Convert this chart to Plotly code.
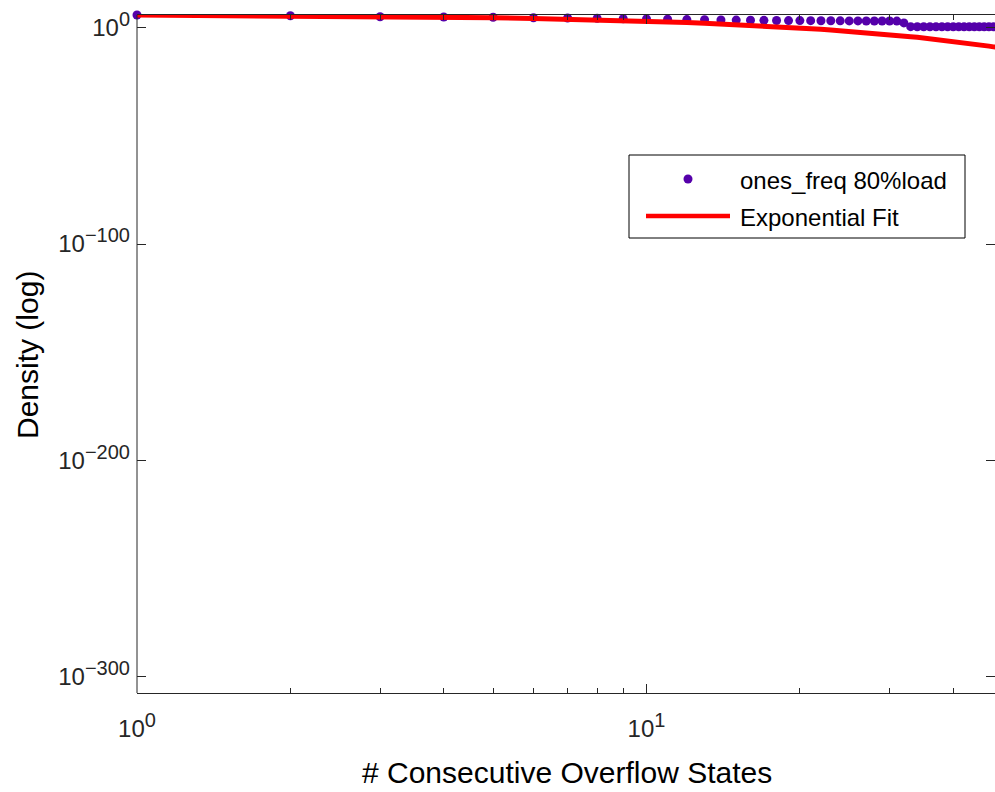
import plotly.graph_objects as go

# ---- data ----
x_states = list(range(1, 49))
ones_freq = [7.4e5, 3.5e5, 1.2e5, 8.7e4, 6.5e4, 4.2e4, 3.0e4, 2.2e4, 1.4e4, 1.0e4,
             7.6e3, 5.6e3, 4.5e3, 3.6e3, 3.2e3, 2.8e3, 2.5e3, 2.2e3, 2.0e3, 1.9e3,
             1.8e3, 1.7e3, 1.6e3, 1.5e3, 1.4e3, 1.35e3, 1.3e3, 1.26e3, 1.25e3, 1.2e3,
             1.1e3, 1.6e2, 3.0, 2.9, 2.9, 2.8, 2.9, 2.8, 2.8, 2.7,
             2.8, 2.7, 2.7, 2.6, 2.7, 2.6, 2.6, 2.6]

x_fit = list(range(1, 50))
fit_vals = [7.4e5, 3.6e5, 1.75e5, 8.5e4, 4.15e4, 2.0e4, 9.8e3, 4.8e3, 2.3e3, 1.13e3,
            5.5e2, 2.7e2, 1.3e2, 63, 31, 15, 7.3, 3.5, 1.7, 0.84,
            0.41, 0.20, 0.096, 0.047, 0.023, 0.011, 5.4e-3, 2.6e-3, 1.3e-3, 6.2e-4,
            3.0e-4, 1.5e-4, 7.1e-5, 3.5e-5, 1.7e-5, 8.2e-6, 4.0e-6, 1.9e-6, 9.5e-7, 4.6e-7,
            2.2e-7, 1.1e-7, 5.3e-8, 2.6e-8, 1.25e-8, 6.1e-9, 3.0e-9, 1.4e-9, 7.0e-10]

x_tickvals = [1, 10]
x_exponents = ["0", "1"]
x_minor = [2, 3, 4, 5, 6, 7, 8, 9, 20, 30, 40]
y_tickvals = [1, 1e-100, 1e-200, 1e-300]
y_exponents = ["0", "\u2212100", "\u2212200", "\u2212300"]

series_name = "ones_freq 80%load"
fit_name = "Exponential Fit"

PURPLE = "#5500aa"
RED = "#ff0000"
AX = "#262626"
FONT = "Liberation Sans, Arial, sans-serif"

def pow_label(e):
    return "10<sup><span style='font-size:20px'>%s</span></sup>" % e

x_ticktext = [pow_label(e) for e in x_exponents]
y_ticktext = [pow_label(e) for e in y_exponents]

fig = go.Figure()
fig.add_trace(go.Scatter(x=x_states, y=ones_freq, mode="markers", name=series_name,
                         marker=dict(color=PURPLE, size=9, line=dict(width=0)),
                         cliponaxis=False, showlegend=False, hoverinfo="skip"))
fig.add_trace(go.Scatter(x=x_fit, y=fit_vals, mode="lines", name=fit_name,
                         line=dict(color=RED, width=5), cliponaxis=False, showlegend=False,
                         hoverinfo="skip"))

# plot-area pixel geometry
L, R, T, B = 137, 995, 15, 693
W, H = R - L, B - T
def px(X):
    return (X - L) / W
def py(Y):
    return (B - Y) / H

shapes = [
    dict(type="line", xref="paper", yref="paper", x0=0, x1=0, y0=0, y1=1,
         line=dict(color=AX, width=1)),
    dict(type="rect", xref="paper", yref="paper", x0=px(629), x1=px(965), y0=py(238), y1=py(155),
         line=dict(color="#000000", width=1), fillcolor="white", layer="above"),
    dict(type="circle", xref="paper", yref="paper", x0=px(688 - 4.5), x1=px(688 + 4.5),
         y0=py(179 + 4.5), y1=py(179 - 4.5), fillcolor=PURPLE, line=dict(width=0), layer="above"),
    dict(type="line", xref="paper", yref="paper", x0=px(646), x1=px(730), y0=py(216), y1=py(216),
         line=dict(color=RED, width=4.5), layer="above"),
]

annotations = [
    dict(text=series_name, xref="paper", yref="paper", x=px(738), y=py(180), xanchor="left",
         yanchor="middle", showarrow=False, font=dict(family=FONT, size=24, color="#000")),
    dict(text=fit_name, xref="paper", yref="paper", x=px(738), y=py(217), xanchor="left",
         yanchor="middle", showarrow=False, font=dict(family=FONT, size=24, color="#000")),
    dict(text="# Consecutive Overflow States", xref="paper", yref="paper", x=px(567), y=py(773),
         xanchor="center", yanchor="middle", showarrow=False,
         font=dict(family=FONT, size=30, color="#000")),
    dict(text="Density (log)", xref="paper", yref="paper", x=px(27), y=py(355), textangle=-90,
         xanchor="center", yanchor="middle", showarrow=False,
         font=dict(family=FONT, size=30, color="#000")),
]

fig.update_layout(
    width=995, height=792,
    margin=dict(l=L, r=995 - R, t=T, b=792 - B, pad=0),
    paper_bgcolor="white", plot_bgcolor="white",
    font=dict(family=FONT, size=24, color=AX),
    shapes=shapes, annotations=annotations,
    showlegend=False, hovermode=False,
    xaxis=dict(type="log", range=[0, 1.684], tickmode="array", tickvals=x_tickvals,
               ticktext=x_ticktext, ticks="inside", ticklen=9, tickcolor=AX, tickwidth=1,
               showline=True, linecolor=AX, linewidth=1, mirror="ticks",
               showgrid=False, zeroline=False, ticklabelstandoff=14,
               minor=dict(tickvals=x_minor, ticks="inside", ticklen=5, tickcolor=AX, showgrid=False),
               tickfont=dict(family=FONT, size=24, color=AX)),
    yaxis=dict(type="log", range=[-307.5, 5.87], tickmode="array", tickvals=y_tickvals,
               ticktext=y_ticktext, ticks="inside", ticklen=9, tickcolor=AX, tickwidth=1,
               showline=False, mirror="ticks", showgrid=False, zeroline=False,
               ticklabelstandoff=6,
               tickfont=dict(family=FONT, size=24, color=AX)),
)

fig.write_html("out.html", config={"displayModeBar": False, "staticPlot": True},
               post_script="document.body.style.margin='0';document.body.style.overflow='hidden';")
